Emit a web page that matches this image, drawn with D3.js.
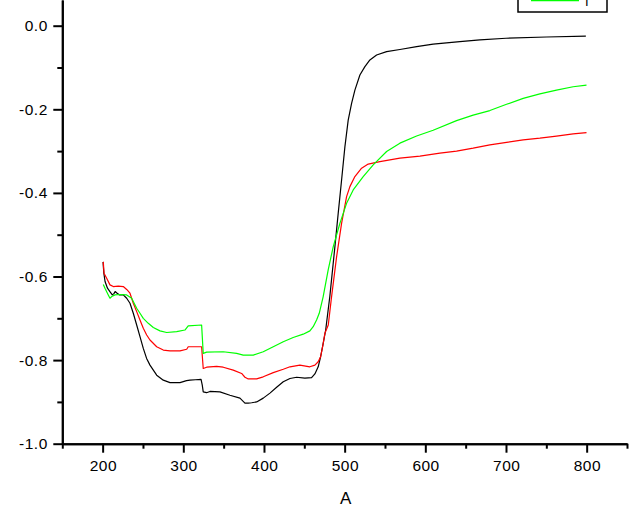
<!DOCTYPE html>
<html>
<head>
<meta charset="utf-8">
<script src="https://cdn.jsdelivr.net/npm/d3@7"></script>
<style>
  body { margin: 0; background: #fff; }
  svg { display: block; }
  .tick text { font-family: "Liberation Sans", Arial, sans-serif; font-size: 15.5px; letter-spacing: 0.5px; fill: #000; }
</style>
</head>
<body>
<div id="chart"></div>
<script>
// DATA
const blackX = [200.5, 201.5, 203, 206, 209, 212, 214, 215.5, 218, 221, 225.6, 229.8, 233.9, 238, 242.2, 246.3, 250.4, 254.5, 258.7, 267, 275.2, 283.5, 295.9, 304, 308.3, 315, 322, 323.5, 324.7, 328.8, 333, 345.4, 357.8, 370.2, 376.4, 380.5, 384.7, 390.9, 399.1, 407.4, 415.7, 423.9, 432.2, 440.5, 450.7, 459, 463.1, 467.2, 470.2, 473.4, 476.5, 481.6, 487.9, 492, 496.2, 500.3, 504.4, 508.6, 512.7, 518.9, 525.1, 531.3, 539.6, 552, 568.5, 589.2, 609.7, 642.8, 667.6, 700, 750, 799];
const blackY = [-0.565, -0.592, -0.612, -0.628, -0.636, -0.644, -0.641, -0.636, -0.640, -0.644, -0.644, -0.652, -0.664, -0.688, -0.716, -0.744, -0.772, -0.796, -0.812, -0.836, -0.848, -0.854, -0.854, -0.849, -0.848, -0.847, -0.846, -0.860, -0.876, -0.878, -0.875, -0.876, -0.884, -0.891, -0.903, -0.903, -0.902, -0.900, -0.891, -0.879, -0.865, -0.852, -0.844, -0.841, -0.843, -0.842, -0.833, -0.816, -0.792, -0.760, -0.728, -0.648, -0.529, -0.449, -0.369, -0.290, -0.226, -0.186, -0.154, -0.118, -0.098, -0.082, -0.070, -0.062, -0.057, -0.050, -0.044, -0.038, -0.034, -0.030, -0.027, -0.025];

const redX = [200.8, 201.7, 205, 209.1, 213.2, 219.4, 225.6, 229.8, 233.9, 238, 242.2, 246.3, 250.4, 254.6, 258.7, 267, 275.2, 283.5, 295.9, 304.2, 306.1, 322.7, 324.7, 328.9, 341.3, 349.5, 361.9, 372.3, 376.4, 380.5, 390.9, 399.1, 411.5, 423.9, 432.2, 444.5, 456.9, 463.1, 467.2, 470.2, 472.7, 475.5, 479.7, 483.8, 490, 496.2, 502.4, 506.5, 512.7, 521, 529.2, 543.7, 568.5, 593.3, 618.1, 638.7, 659.3, 680, 700.7, 721.3, 742, 762.6, 783.2, 799.8];
const redY = [-0.565, -0.592, -0.604, -0.620, -0.624, -0.623, -0.624, -0.631, -0.640, -0.664, -0.684, -0.704, -0.724, -0.740, -0.752, -0.768, -0.776, -0.778, -0.778, -0.774, -0.768, -0.768, -0.820, -0.817, -0.815, -0.817, -0.824, -0.832, -0.841, -0.845, -0.845, -0.840, -0.830, -0.822, -0.816, -0.812, -0.816, -0.812, -0.804, -0.792, -0.768, -0.736, -0.716, -0.648, -0.553, -0.473, -0.409, -0.385, -0.361, -0.341, -0.331, -0.325, -0.317, -0.312, -0.305, -0.300, -0.293, -0.285, -0.279, -0.273, -0.269, -0.264, -0.259, -0.256];

const greenX = [200.8, 202.9, 207, 209.1, 211.2, 215.3, 221.5, 229.8, 236, 242.2, 246.3, 250.4, 256.6, 262.8, 271.1, 279.4, 291.8, 302, 306.1, 322.7, 324.7, 328.9, 349.5, 366.1, 374.3, 386.7, 399.1, 411.5, 423.9, 436.2, 448.6, 456.9, 461, 465.2, 468.5, 473.4, 479.6, 485.8, 494.1, 502.4, 510.6, 523, 535.4, 552, 568.5, 589.2, 609.7, 638.7, 659.3, 680, 700.7, 721.3, 742, 762.6, 783.2, 799.8];
const greenY = [-0.619, -0.628, -0.644, -0.652, -0.648, -0.644, -0.643, -0.644, -0.652, -0.676, -0.688, -0.700, -0.712, -0.722, -0.730, -0.734, -0.732, -0.728, -0.718, -0.716, -0.784, -0.781, -0.780, -0.784, -0.788, -0.788, -0.780, -0.768, -0.756, -0.746, -0.738, -0.730, -0.720, -0.704, -0.688, -0.648, -0.584, -0.529, -0.473, -0.425, -0.393, -0.361, -0.333, -0.301, -0.281, -0.264, -0.250, -0.227, -0.214, -0.203, -0.188, -0.174, -0.163, -0.154, -0.146, -0.142];

const seriesNames = ["I", "I", "I"];
const seriesColors = ["#000000", "#ff0000", "#00ff00"];

const xMajorTicks = [200, 300, 400, 500, 600, 700, 800];
const xMinorTicks = [150, 250, 350, 450, 550, 650, 750, 850];
const yMajorTicks = [-1.0, -0.8, -0.6, -0.4, -0.2, 0.0];
const yMinorTicks = [-0.9, -0.7, -0.5, -0.3, -0.1];
const xTitle = "A";

// CANVAS SETUP
const width = 635,
  height = 511;

const svg = d3
  .select("#chart")
  .append("svg")
  .attr("width", width)
  .attr("height", height);

const x = d3.scaleLinear().domain([150, 850]).range([62.3, 627]);
const y = d3.scaleLinear().domain([-1.0, 0.0615]).range([443.7, 0]);

const series = [
  { name: seriesNames[0], color: seriesColors[0], xs: blackX, ys: blackY },
  { name: seriesNames[1], color: seriesColors[1], xs: redX, ys: redY },
  { name: seriesNames[2], color: seriesColors[2], xs: greenX, ys: greenY },
];

const line = d3
  .line()
  .x((d) => x(d[0]))
  .y((d) => y(d[1]));

svg
  .append("g")
  .selectAll("path")
  .data(series)
  .join("path")
  .attr("d", (s) => line(s.xs.map((v, i) => [v, s.ys[i]])))
  .attr("fill", "none")
  .attr("stroke", (s) => s.color)
  .attr("stroke-width", 1.2)
  .attr("stroke-linejoin", "round");

// AXES
const xAxisG = svg.append("g").attr("transform", `translate(0,${y(-1.0)})`);
xAxisG
  .append("g")
  .call(d3.axisBottom(x).tickValues(xMinorTicks).tickSize(5).tickSizeOuter(0).tickFormat(""));
xAxisG
  .append("g")
  .call(
    d3
      .axisBottom(x)
      .tickValues(xMajorTicks)
      .tickSize(9)
      .tickSizeOuter(0)
      .tickPadding(7)
      .tickFormat(d3.format("d"))
  );
// letter-spacing adds a trailing gap; nudge to keep labels centred
xAxisG.selectAll(".tick text").attr("dx", 0.25);

const yAxisG = svg.append("g").attr("transform", `translate(${x(150)},0)`);
yAxisG
  .append("g")
  .call(d3.axisLeft(y).tickValues(yMinorTicks).tickSize(5).tickSizeOuter(0).tickFormat(""));
yAxisG
  .append("g")
  .call(
    d3
      .axisLeft(y)
      .tickValues(yMajorTicks)
      .tickSize(9)
      .tickSizeOuter(0)
      .tickPadding(5.5)
      .tickFormat(d3.format(".1f"))
  );

svg.selectAll(".domain").attr("stroke", "#000").attr("stroke-width", 2);
svg.selectAll(".tick line").attr("stroke", "#000").attr("stroke-width", 2);
svg.selectAll(".tick text").text(function () {
  return d3.select(this).text().replace("−", "-");
});

svg
  .append("text")
  .attr("x", (x(150) + x(850)) / 2 + 1)
  .attr("y", 504)
  .attr("text-anchor", "middle")
  .style("font-family", '"Liberation Sans", Arial, sans-serif')
  .style("font-size", "17px")
  .text(xTitle);

// LEGEND (mostly above the visible area, as in the reference)
const legend = svg.append("g").attr("transform", "translate(518,0)");
legend
  .append("rect")
  .attr("x", 0)
  .attr("y", -50)
  .attr("width", 89)
  .attr("height", 62)
  .attr("fill", "none")
  .attr("stroke", "#000")
  .attr("stroke-width", 1.5);

const legendRow = legend
  .selectAll("g.row")
  .data(series)
  .join("g")
  .attr("class", "row")
  .attr("transform", (d, i) => `translate(0,${0.5 - (series.length - 1 - i) * 16})`);

legendRow
  .append("line")
  .attr("x1", 13)
  .attr("x2", 61)
  .attr("stroke", (d) => d.color)
  .attr("stroke-width", 1.5);

legendRow
  .append("text")
  .attr("x", 67)
  .attr("y", 5.5)
  .style("font-family", '"Liberation Sans", Arial, sans-serif')
  .style("font-size", "13px")
  .text((d) => d.name);
</script>
</body>
</html>
